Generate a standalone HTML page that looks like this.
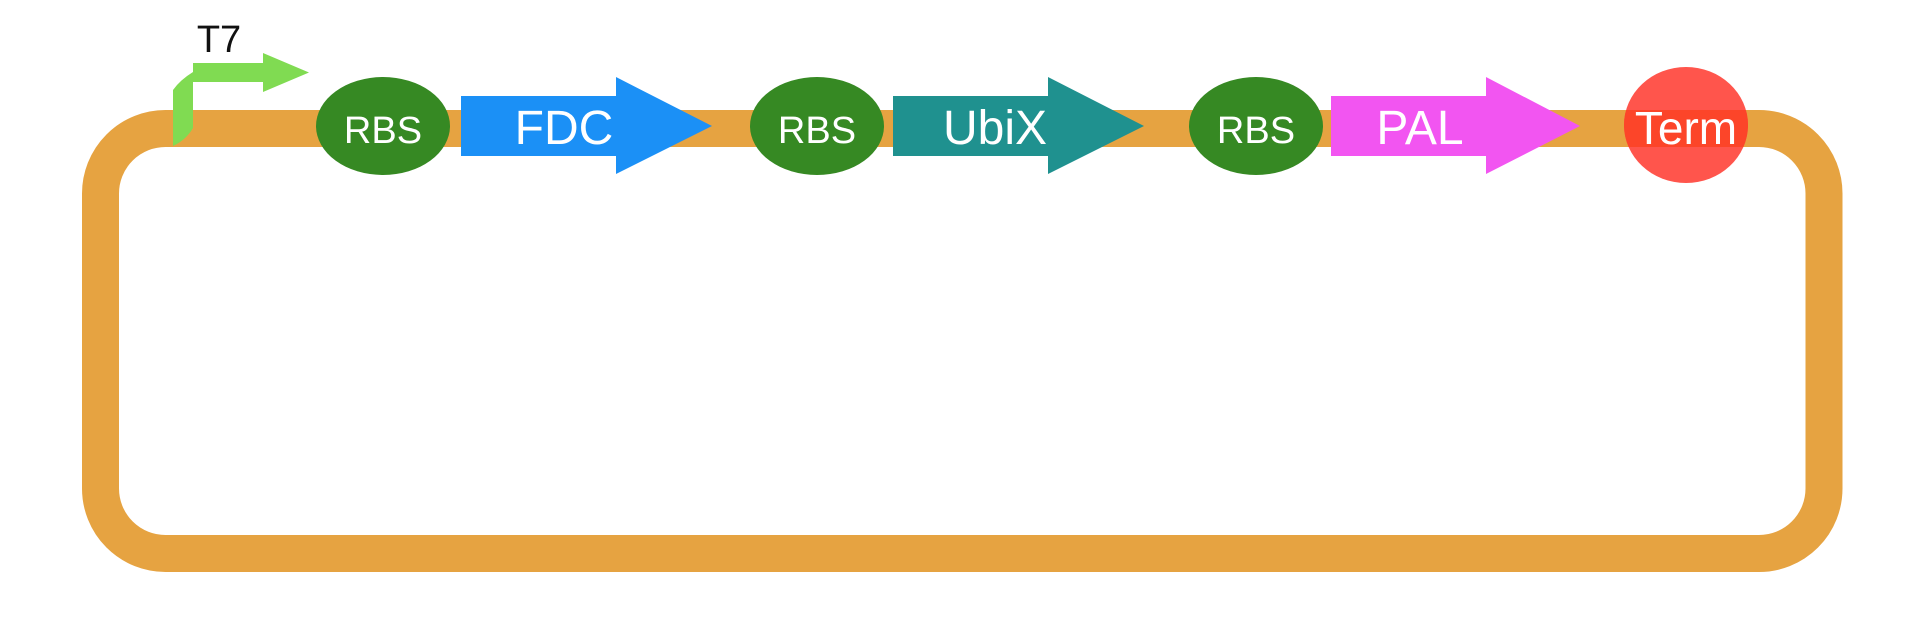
<!DOCTYPE html>
<html><head><style>body{margin:0;background:#fff}svg{display:block}text{font-family:"Liberation Sans",sans-serif;font-weight:normal}</style></head>
<body>
<svg width="1924" height="640" viewBox="0 0 1924 640" xmlns="http://www.w3.org/2000/svg">
<defs><clipPath id="tc"><ellipse cx="1686" cy="125" rx="62" ry="58"/></clipPath></defs>
<rect x="100.5" y="128.5" width="1723.5" height="425" rx="65" ry="65" fill="none" stroke="#E6A341" stroke-width="37"/>
<path d="M173 90 Q180 80 193 72 L193 63 L263 63 L263 53 L309 72.5 L263 92 L263 82 L193 82 L193 128 Q186 140 173 146 Z" fill="#80DB52"/>
<text x="219" y="52" font-size="38" text-anchor="middle" fill="#111">T7</text>
<ellipse cx="383" cy="126" rx="67" ry="49" fill="#368923"/>
<ellipse cx="817" cy="126" rx="67" ry="49" fill="#368923"/>
<ellipse cx="1256" cy="126" rx="67" ry="49" fill="#368923"/>
<g font-size="38" fill="#fff" text-anchor="middle">
<text x="383" y="143">RBS</text><text x="817" y="143">RBS</text><text x="1256" y="143">RBS</text>
</g>
<path d="M461 96 L616 96 L616 77 L712 126 L616 174 L616 156 L461 156 Z" fill="#1B90F6"/>
<path d="M893 96 L1048 96 L1048 77 L1144 126 L1048 174 L1048 156 L893 156 Z" fill="#1F918F"/>
<path d="M1331 96 L1486 96 L1486 77 L1580 126 L1486 174 L1486 156 L1331 156 Z" fill="#F255F1"/>
<g font-size="48" fill="#fff" text-anchor="middle">
<text x="564" y="144">FDC</text><text x="995" y="144">UbiX</text><text x="1420" y="144">PAL</text>
</g>
<ellipse cx="1686" cy="125" rx="62" ry="58" fill="#FF554C"/>
<rect x="1620" y="110" width="132" height="37" fill="#FC4529" clip-path="url(#tc)"/>
<text x="1686" y="144" font-size="46" fill="#fff" text-anchor="middle">Term</text>
</svg>
</body></html>
